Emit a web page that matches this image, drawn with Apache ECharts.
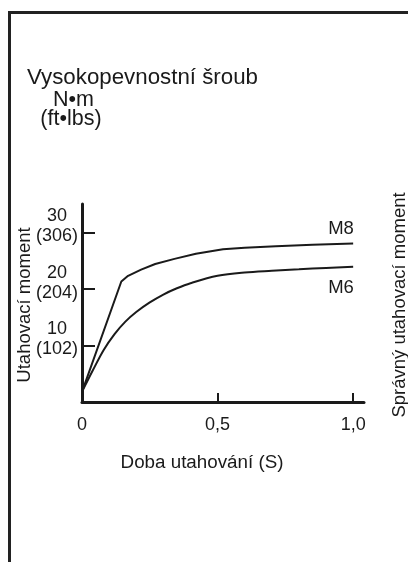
<!DOCTYPE html>
<html>
<head>
<meta charset="utf-8">
<script src="https://cdn.jsdelivr.net/npm/echarts@6/dist/echarts.min.js"></script>
<style>
html,body{margin:0;padding:0;background:#fff;}
#c{width:408px;height:562px;}
</style>
</head>
<body>
<div id="c"></div>
<script>
// ---- data ----
const timeM8   = [0, 0.145, 0.17, 0.218, 0.27, 0.341, 0.42, 0.52, 0.60, 0.715, 0.85, 1.0];
const torqueM8 = [1.8, 21.3, 22.3, 23.4, 24.4, 25.3, 26.2, 27.0, 27.25, 27.55, 27.8, 28.0];
const timeM6   = [0, 0.04, 0.08, 0.12, 0.16, 0.20, 0.25, 0.30, 0.35, 0.40, 0.50, 0.60, 0.70, 0.80, 0.90, 1.0];
const torqueM6 = [1.8, 5.6, 9.2, 12.0, 14.2, 15.9, 17.6, 19.0, 20.1, 21.0, 22.3, 22.9, 23.2, 23.45, 23.7, 23.9];
const seriesNames = ['M8', 'M6'];
const yTickValues = [10, 20, 30];
const yTickNm     = ['10', '20', '30'];
const yTickFtLbs  = ['(102)', '(204)', '(306)'];
const xTickValues = [0, 0.5, 1.0];
const xTickLabels = ['0', '0,5', '1,0'];
const titleText = 'Vysokopevnostní šroub';
const unitNm = 'N•m';
const unitFt = '(ft•lbs)';
const yName = 'Utahovací moment';
const xName = 'Doba utahování (S)';
const rightName = 'Správný utahovací moment';

const FONT = '"Liberation Sans", Arial, Helvetica, sans-serif';
const INK = '#1a1a1a';

const pairs = (xs, ys) => xs.map((x, i) => [x, ys[i]]);

const chart = echarts.init(document.getElementById('c'), null, {renderer: 'canvas'});
chart.setOption({
  backgroundColor: '#fff',
  animation: false,
  textStyle: {fontFamily: FONT, color: INK},
  grid: {left: 82, right: 44, top: 204, bottom: 160, containLabel: false},
  xAxis: {
    type: 'value', min: 0, max: 1.04, interval: 0.5,
    splitLine: {show: false},
    axisLine: {show: true, lineStyle: {color: INK, width: 3}},
    axisTick: {show: true, inside: true, length: 9, customValues: xTickValues, lineStyle: {color: INK, width: 2}},
    axisLabel: {
      customValues: xTickValues, margin: 14,
      fontFamily: FONT, fontSize: 18, color: INK,
      formatter: v => { const i = xTickValues.findIndex(t => Math.abs(t - v) < 1e-6); return i >= 0 ? xTickLabels[i] : ''; }
    }
  },
  yAxis: {
    type: 'value', min: 0, max: 35, interval: 10,
    splitLine: {show: false},
    axisLine: {show: true, lineStyle: {color: INK, width: 3}},
    axisTick: {show: true, inside: true, length: 13, customValues: yTickValues, lineStyle: {color: INK, width: 2}},
    axisLabel: {
      customValues: yTickValues, margin: 3,
      padding: [0, 0, 12, 0],
      formatter: v => { const i = yTickValues.indexOf(v); return i >= 0 ? '{a|' + yTickNm[i] + '}\n{b|' + yTickFtLbs[i] + '}' : ''; },
      rich: {
        a: {fontFamily: FONT, fontSize: 18, color: INK, width: 44, align: 'center', lineHeight: 20},
        b: {fontFamily: FONT, fontSize: 18, color: INK, width: 44, align: 'center', lineHeight: 20}
      }
    }
  },
  series: [
    {name: seriesNames[0], type: 'line', data: pairs(timeM8, torqueM8), showSymbol: false, symbol: 'none',
     smooth: false, lineStyle: {color: INK, width: 2}},
    {name: seriesNames[1], type: 'line', data: pairs(timeM6, torqueM6), showSymbol: false, symbol: 'none',
     smooth: 0.35, lineStyle: {color: INK, width: 2}}
  ],
  graphic: [
    {type: 'polyline', shape: {points: [[9.5, 562], [9.5, 12.5], [408, 12.5]]}, style: {stroke: '#222', lineWidth: 3, fill: null}},
    {type: 'text', x: 27, y: 77.5, style: {text: titleText, font: '22.3px ' + FONT, fill: INK, textAlign: 'left', textVerticalAlign: 'middle'}},
    {type: 'text', x: 73.5, y: 100.5, style: {text: unitNm, font: '21.5px ' + FONT, fill: INK, textAlign: 'center', textVerticalAlign: 'middle'}},
    {type: 'text', x: 71, y: 119, style: {text: unitFt, font: '21.5px ' + FONT, fill: INK, textAlign: 'center', textVerticalAlign: 'middle'}},
    {type: 'text', x: 25, y: 305, rotation: Math.PI / 2, style: {text: yName, font: '18.5px ' + FONT, fill: INK, textAlign: 'center', textVerticalAlign: 'middle'}},
    {type: 'text', x: 399.5, y: 305, rotation: Math.PI / 2, style: {text: rightName, font: '18.5px ' + FONT, fill: INK, textAlign: 'center', textVerticalAlign: 'middle'}},
    {type: 'text', x: 202, y: 463, style: {text: xName, font: '18.8px ' + FONT, fill: INK, textAlign: 'center', textVerticalAlign: 'middle'}},
    {type: 'text', x: 341, y: 228.5, style: {text: seriesNames[0], font: '18.5px ' + FONT, fill: INK, textAlign: 'center', textVerticalAlign: 'middle'}},
    {type: 'text', x: 341, y: 287.5, style: {text: seriesNames[1], font: '18.5px ' + FONT, fill: INK, textAlign: 'center', textVerticalAlign: 'middle'}}
  ]
});
</script>
</body>
</html>
